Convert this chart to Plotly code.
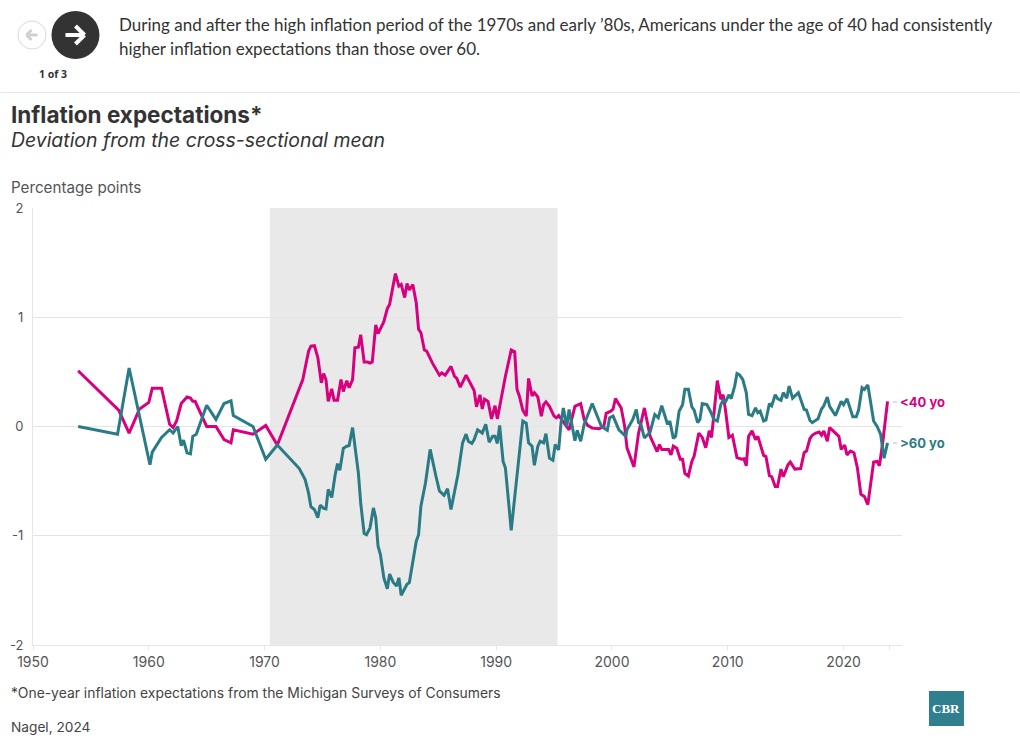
import plotly.graph_objects as go

years_under40 = [1953.9,1957.4,1958.3,1958.9,1959.2,1960.0,1960.3,1961.1,1961.8,1962.1,1962.4,1962.8,1963.3,1963.6,1963.8,1964.0,1965.0,1965.8,1966.5,1967.1,1967.3,1969.0,1970.1,1971.1,
1973.3,1973.8,1974.0,1974.3,1974.6,1974.9,1975.1,1975.3,1975.5,1975.8,1976.0,1976.3,1976.6,1976.8,1977.1,1977.3,1977.6,1977.8,1978.1,1978.3,1978.6,1978.9,1979.1,1979.3,1979.6,1979.8,1980.1,1980.3,1980.6,1980.8,1981.3,1981.6,1981.8,1982.1,1982.3,1982.5,1982.8,1983.1,1983.3,1983.5,1983.8,1984.0,1984.5,1984.8,1985.1,1985.3,1985.6,1986.1,1986.4,1986.6,1986.9,1987.4,1987.6,1988.1,1988.3,1988.6,1988.8,1989.0,1989.3,1989.6,1989.9,1990.1,1990.3,1990.6,1990.8,1991.3,1991.6,1991.8,1992.0,1992.3,1992.6,1992.8,1993.1,1993.3,1993.6,1993.9,1994.1,1994.3,1994.6,1995.0,1995.2,1995.4,
1996.3,1996.8,1997.3,1997.6,1997.9,1998.3,1998.9,1999.3,1999.5,1999.9,2000.1,2000.3,2000.8,2001.1,2001.3,2001.9,2002.3,2002.5,2002.8,2003.3,2003.9,2004.1,2004.3,2004.9,2005.1,2005.3,2005.6,2005.9,2006.1,2006.3,2006.6,2006.9,2007.1,2007.5,2007.8,2008.1,2008.4,2008.6,2008.8,2009.1,2009.4,2009.6,2009.8,2010.1,2010.4,2010.8,2011.2,2011.4,2011.6,2011.8,2012.1,2012.4,2012.6,2013.1,2013.3,2013.6,2013.8,2014.1,2014.3,2014.6,2014.8,2015.2,2015.4,2015.8,2016.3,2016.6,2016.8,2017.1,2017.3,2017.6,2017.9,2018.1,2018.3,2018.6,2018.8,2019.1,2019.4,2019.6,2019.8,2020.1,2020.3,2020.6,2020.9,2021.2,2021.5,2021.8,2022.1,2022.3,2022.6,2022.9,2023.1,2023.4,2023.8]
values_under40 = [0.51,0.15,-0.06,0.09,0.16,0.22,0.35,0.35,0.02,-0.01,0.05,0.21,0.27,0.26,0.23,0.23,0.0,0.0,-0.12,-0.15,-0.03,-0.07,0.01,-0.17,
0.43,0.69,0.735,0.74,0.63,0.40,0.485,0.43,0.23,0.345,0.24,0.24,0.43,0.32,0.42,0.355,0.43,0.72,0.725,0.84,0.59,0.59,0.58,0.59,0.93,0.85,0.92,0.96,1.08,1.12,1.40,1.285,1.30,1.18,1.31,1.25,1.30,1.13,0.89,0.86,0.70,0.69,0.58,0.53,0.47,0.49,0.47,0.55,0.46,0.44,0.36,0.47,0.43,0.33,0.18,0.29,0.16,0.25,0.23,0.07,0.19,0.07,0.18,0.37,0.46,0.70,0.685,0.34,0.28,0.15,0.095,0.44,0.28,0.31,0.27,0.095,0.20,0.225,0.185,0.095,0.08,0.10,
-0.03,0.185,0.21,0.065,0.01,-0.015,-0.02,0.0,0.12,0.14,0.16,0.255,0.17,0.0,-0.195,-0.37,-0.06,0.03,0.17,-0.09,-0.23,-0.165,-0.21,-0.21,-0.26,-0.18,-0.2,-0.30,-0.30,-0.43,-0.455,-0.32,-0.27,-0.06,-0.10,-0.195,-0.04,-0.10,0.125,0.42,0.25,0.29,0.155,-0.10,-0.08,-0.285,-0.30,-0.295,-0.36,-0.09,-0.04,-0.12,-0.09,-0.265,-0.275,-0.45,-0.46,-0.55,-0.55,-0.39,-0.46,-0.35,-0.325,-0.39,-0.385,-0.24,-0.225,-0.11,-0.08,-0.06,-0.05,-0.08,-0.04,-0.135,-0.01,-0.04,-0.07,-0.09,-0.21,-0.17,-0.26,-0.225,-0.24,-0.38,-0.62,-0.64,-0.715,-0.545,-0.325,-0.32,-0.36,-0.135,0.23]

years_over60 = [1953.9,1957.3,1958.3,1960.1,1960.3,1961.1,1961.8,1962.1,1962.5,1962.8,1963.0,1963.3,1963.6,1963.8,1964.1,1965.0,1965.8,1966.5,1967.1,1967.3,1969.0,1970.1,1971.1,
1973.0,1973.5,1973.8,1974.0,1974.3,1974.6,1974.8,1975.1,1975.3,1975.5,1975.8,1976.1,1976.3,1976.5,1976.8,1977.1,1977.3,1977.6,1977.8,1978.1,1978.3,1978.6,1978.8,1979.1,1979.4,1979.6,1979.8,1980.0,1980.3,1980.6,1980.8,1981.1,1981.4,1981.6,1981.8,1982.3,1982.5,1983.1,1983.3,1983.5,1983.9,1984.3,1984.8,1985.1,1985.5,1985.8,1986.1,1986.7,1987.1,1987.4,1987.6,1987.9,1988.1,1988.4,1988.8,1989.1,1989.4,1989.7,1989.9,1990.1,1990.3,1990.6,1990.8,1991.3,1992.3,1992.6,1992.8,1993.1,1993.3,1993.6,1993.8,1994.1,1994.3,1994.6,1994.9,1995.1,1995.4,1995.6,1995.8,
1996.1,1996.3,1996.8,1997.0,1997.3,1997.6,1998.3,1998.9,1999.1,1999.6,1999.8,2000.1,2000.6,2001.2,2001.3,2001.8,2002.1,2002.3,2002.5,2002.8,2003.3,2003.7,2004.0,2004.3,2004.8,2005.0,2005.3,2005.5,2005.8,2006.1,2006.3,2006.6,2006.9,2007.1,2007.4,2007.6,2007.8,2008.2,2008.5,2008.8,2009.1,2009.4,2009.6,2009.8,2010.1,2010.3,2010.6,2010.8,2011.0,2011.3,2011.6,2011.8,2012.1,2012.4,2012.6,2012.8,2013.1,2013.3,2013.6,2013.8,2014.1,2014.3,2014.6,2014.8,2015.1,2015.3,2015.6,2016.1,2016.6,2016.8,2017.1,2017.3,2017.8,2018.1,2018.3,2018.6,2018.8,2019.3,2019.8,2020.0,2020.3,2020.8,2021.1,2021.3,2021.6,2021.8,2022.1,2022.6,2022.9,2023.2,2023.5,2023.8]
values_over60 = [0.0,-0.07,0.535,-0.35,-0.235,-0.10,-0.03,-0.06,0.0,-0.175,-0.125,-0.24,-0.25,-0.09,-0.07,0.195,0.065,0.21,0.235,0.10,0.0,-0.30,-0.17,
-0.385,-0.485,-0.61,-0.735,-0.76,-0.835,-0.72,-0.75,-0.755,-0.575,-0.65,-0.44,-0.34,-0.40,-0.20,-0.18,-0.175,-0.01,-0.18,-0.425,-0.70,-0.98,-0.99,-0.93,-0.745,-0.835,-1.095,-1.17,-1.385,-1.485,-1.35,-1.425,-1.46,-1.385,-1.545,-1.445,-1.43,-1.05,-0.99,-0.73,-0.515,-0.21,-0.455,-0.59,-0.63,-0.57,-0.76,-0.44,-0.15,-0.07,-0.135,-0.155,-0.12,-0.03,-0.06,0.02,-0.145,-0.09,-0.09,-0.155,0.01,-0.32,-0.38,-0.95,0.05,0.03,-0.15,-0.18,-0.355,-0.18,-0.135,-0.15,-0.065,-0.29,-0.31,-0.165,-0.215,0.035,0.17,
0.0,0.155,-0.13,-0.035,-0.135,0.02,0.21,0.05,0.0,-0.035,0.08,0.095,-0.03,-0.09,-0.03,0.065,0.155,0.035,0.02,-0.105,-0.05,0.11,0.08,0.19,0.02,0.05,-0.11,-0.09,0.14,0.20,0.34,0.34,0.18,0.15,0.035,0.065,0.21,0.20,0.14,0.065,0.05,0.20,0.24,0.225,0.29,0.255,0.37,0.485,0.475,0.43,0.31,0.11,0.10,0.17,0.125,0.14,0.05,0.06,0.21,0.19,0.29,0.255,0.24,0.31,0.26,0.37,0.26,0.31,0.155,0.15,0.055,0.035,0.07,0.16,0.19,0.27,0.185,0.10,0.23,0.20,0.255,0.09,0.09,0.15,0.355,0.34,0.38,0.05,0.0,-0.07,-0.29,-0.15]

x_tick_values = [1950, 1960, 1970, 1980, 1990, 2000, 2010, 2020, 2024]
x_tick_labels = ["1950", "1960", "1970", "1980", "1990", "2000", "2010", "2020", ""]
y_tick_values = [-2, -1, 0, 1, 2]
y_tick_labels = ["-2", "-1", "0", "1", "2"]
shade_period = [1970.45, 1995.3]

MAGENTA = "#d9007f"
TEAL = "#2b7b86"
W, H = 1020, 743
L, R, T, B = 32.5, 902, 208, 645
BODY = "Lato"
UI = "Inter"
PAD = 3  # annotations carry a small built-in padding


def px(x):
    return (x - L) / (R - L)


def py(y):
    return (B - y) / (B - T)


fig = go.Figure()
fig.add_trace(go.Scatter(x=years_under40, y=values_under40, mode="lines", name="<40 yo",
                         line=dict(color=MAGENTA, width=3)))
fig.add_trace(go.Scatter(x=years_over60, y=values_over60, mode="lines", name=">60 yo",
                         line=dict(color=TEAL, width=3)))


def text(s, x, y, size, color="#333333", family=UI, anchor="left", **kw):
    fig.add_annotation(text=s, x=px(x - PAD if anchor == "left" else x), y=py(y), xref="paper", yref="paper",
                       showarrow=False, xanchor=anchor, yanchor="middle", align=anchor,
                       font=dict(size=size, color=color, family=family), **kw)


text("During and after the high inflation period of the 1970s and early ’80s, Americans under the age of 40 had consistently", 120, 25, 17, family=BODY)
text("higher inflation expectations than those over 60.", 120, 48, 17, family=BODY)
text("<b>1 of 3</b>", 53, 74, 10.5, family="Noto Sans", anchor="center")
text("<b>Inflation expectations*</b>", 11, 115, 22.5)
text("<i>Deviation from the cross-sectional mean</i>", 11, 140, 19.4)
text("Percentage points", 11, 188, 15.2, color="#555555")
text("*One-year inflation expectations from the Michigan Surveys of Consumers", 11, 693, 13.9, color="#444444")
text("Nagel, 2024", 11, 727, 13.7, color="#444444")
text("<b>CBR</b>", 946.5, 708.5, 13, color="white", family="Liberation Serif", anchor="center")
text("<b>&lt;40 yo</b>", 901, 402, 13, color=MAGENTA)
text("<b>&gt;60 yo</b>", 901, 443, 13, color=TEAL)

shapes = [
    dict(type="rect", xref="x", yref="paper", x0=shade_period[0], x1=shade_period[1], y0=0, y1=1,
         fillcolor="#e9e9e9", line_width=0, layer="below"),
    dict(type="line", xref="paper", yref="paper", x0=px(0), x1=px(W), y0=py(92.5), y1=py(92.5),
         line=dict(color="#e6e6e6", width=1)),
    dict(type="circle", xref="paper", yref="paper", x0=px(17.5), x1=px(45.5), y0=py(21), y1=py(49),
         fillcolor="white", line=dict(color="#d9d9d9", width=1)),
    dict(type="circle", xref="paper", yref="paper", x0=px(51), x1=px(99), y0=py(11), y1=py(59),
         fillcolor="#333333", line_width=0),
    dict(type="rect", xref="paper", yref="paper", x0=px(929), x1=px(964), y0=py(691), y1=py(726),
         fillcolor="#2f7f8f", line_width=0),
    dict(type="line", xref="paper", yref="paper", x0=px(893), x1=px(897), y0=py(402), y1=py(402),
         line=dict(color="#bbbbbb", width=1)),
    dict(type="line", xref="paper", yref="paper", x0=px(893), x1=px(897), y0=py(443), y1=py(443),
         line=dict(color="#bbbbbb", width=1)),
]
for (x0, y0, x1, y1, c, w) in [(65, 35, 83, 35, "white", 4), (75, 26, 84, 35, "white", 4), (75, 44, 84, 35, "white", 4),
                               (26, 35, 37, 35, "#d0d0d0", 3), (31, 30, 26, 35, "#d0d0d0", 3), (31, 40, 26, 35, "#d0d0d0", 3)]:
    shapes.append(dict(type="line", xref="paper", yref="paper", x0=px(x0), x1=px(x1), y0=py(y0), y1=py(y1),
                       line=dict(color=c, width=w)))

fig.update_layout(
    width=W, height=H, margin=dict(l=L, r=W - R, t=T, b=H - B, pad=0, autoexpand=False),
    paper_bgcolor="white", plot_bgcolor="white", showlegend=False, shapes=shapes,
    xaxis=dict(range=[1950, 2025.05], tickmode="array", tickvals=x_tick_values, ticktext=x_tick_labels,
               showgrid=False, zeroline=False, showline=True, linecolor="#e6e6e6", linewidth=1,
               ticks="outside", ticklen=4, tickcolor="#e6e6e6",
               tickfont=dict(family=UI, size=14, color="#555555")),
    yaxis=dict(range=[-2, 2], tickmode="array", tickvals=y_tick_values, ticktext=y_tick_labels,
               showgrid=True, gridcolor="#e4e4e4", gridwidth=1, zeroline=False,
               showline=True, linecolor="#e6e6e6", linewidth=1, ticks="", ticklabelstandoff=6,
               tickfont=dict(family=UI, size=13, color="#555555")),
)
fig.write_html("out.html", config={"displayModeBar": False},
               post_script="document.body.style.margin='0';document.body.style.overflow='hidden';")
